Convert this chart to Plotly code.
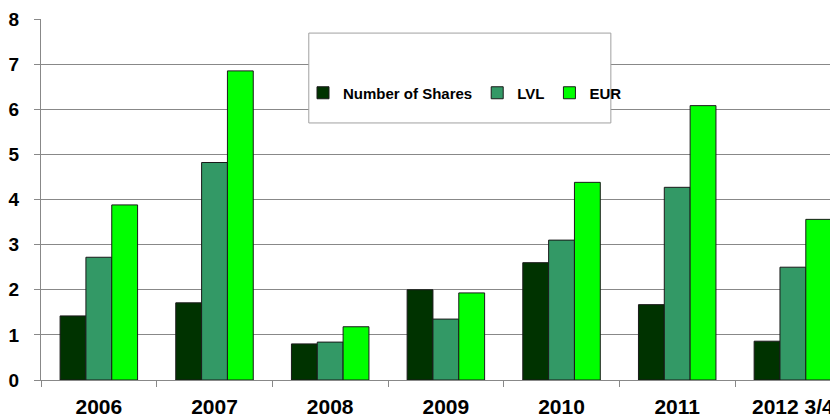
import plotly.graph_objects as go

categories = ["2006", "2007", "2008", "2009", "2010", "2011", "2012 3/4"]
shares = [1.42, 1.71, 0.80, 2.00, 2.60, 1.67, 0.86]
lvl = [2.72, 4.82, 0.84, 1.35, 3.10, 4.27, 2.50]
eur = [3.88, 6.85, 1.18, 1.93, 4.38, 6.08, 3.56]
y_ticks = [0, 1, 2, 3, 4, 5, 6, 7, 8]

font_family = "Liberation Sans, Arial, sans-serif"

fig = go.Figure()
for name, vals, col in [("Number of Shares", shares, "#003300"),
                        ("LVL", lvl, "#339966"),
                        ("EUR", eur, "#00FF00")]:
    fig.add_trace(go.Bar(x=categories, y=vals, name=name,
                         marker=dict(color=col, line=dict(color="#1a1a1a", width=1))))

# page body has an 8px margin, so the figure is offset by 8px
fig.update_layout(
    width=830, height=411,
    margin=dict(l=33, r=0, t=11, b=39, autoexpand=False),
    paper_bgcolor="white", plot_bgcolor="white",
    barmode="group", bargap=0.33, bargroupgap=0,
    font=dict(family=font_family, color="black"),
    showlegend=True,
    legend=dict(orientation="h", x=0.532, y=0.795, xanchor="center", yanchor="middle",
                bgcolor="rgba(0,0,0,0)", font=dict(size=15, weight="bold", family=font_family),
                itemwidth=30, traceorder="normal"),
    shapes=[dict(type="rect", xref="paper", yref="paper",
                 x0=0.336, x1=0.715, y0=0.712, y1=0.961,
                 fillcolor="white", line=dict(color="#a0a0a0", width=1), layer="above")],
)
fig.update_xaxes(
    range=[-0.5, 6.39], showgrid=False, automargin=False,
    showline=True, linecolor="#888888", linewidth=1,
    ticks="outside", tickson="boundaries", ticklen=6, tickcolor="#888888",
    ticklabelstandoff=8,
    tickfont=dict(size=21, weight="bold", family=font_family),
)
fig.update_yaxes(
    range=[0, 8], tickvals=y_ticks, showgrid=True, gridcolor="#888888", gridwidth=1,
    showline=True, linecolor="#888888", linewidth=1, automargin=False,
    ticks="outside", ticklen=6, tickcolor="#888888",
    ticklabelstandoff=11,
    tickfont=dict(size=19, weight="bold", family=font_family),
    zeroline=False,
)
fig.write_html("out.html")
